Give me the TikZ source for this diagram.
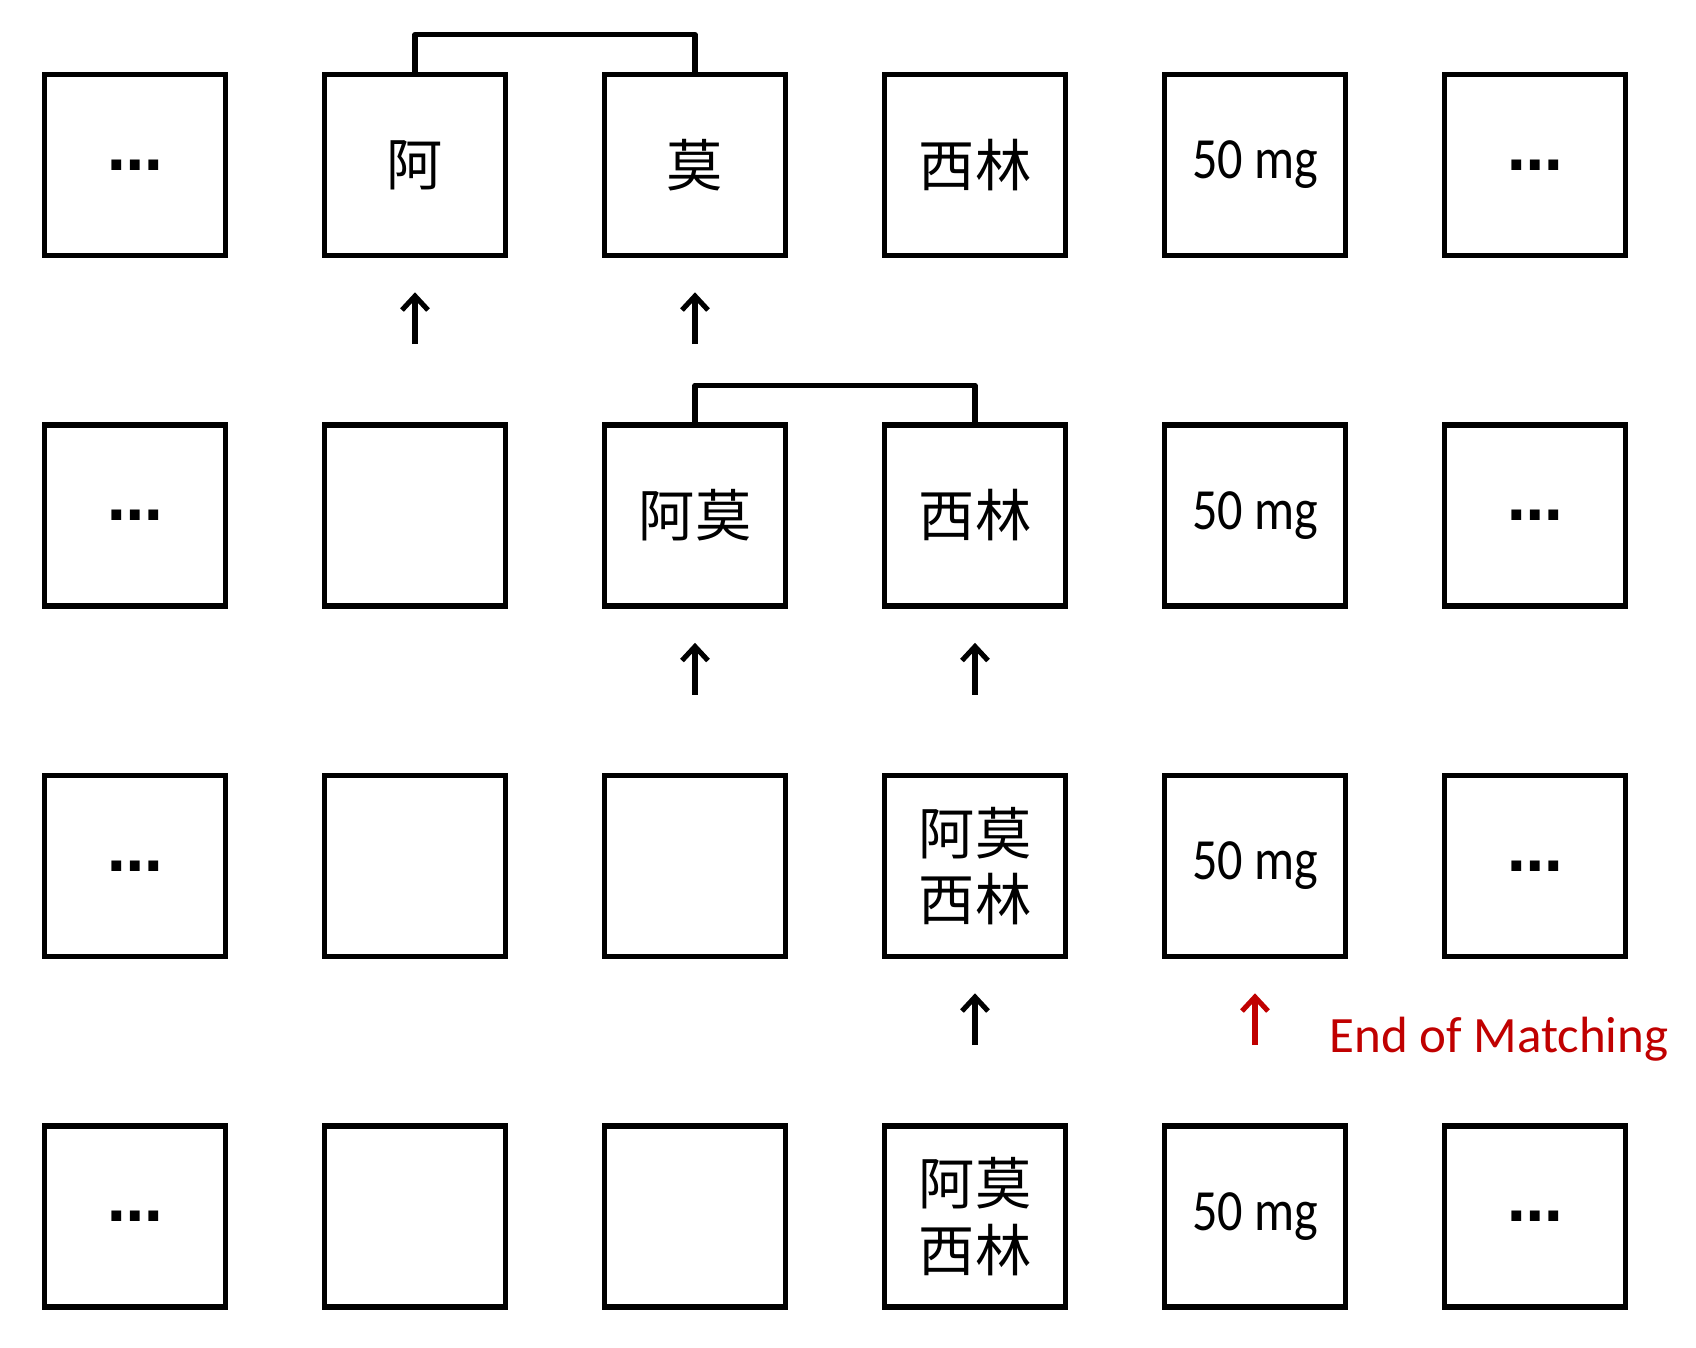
\documentclass[tikz,border=0pt]{standalone}
\usepackage{fontspec}
\setmainfont{Carlito}
\newfontfamily\cjk{Noto Sans CJK SC}
\newfontfamily\narrow[FakeStretch=0.86]{Carlito}
\newfontfamily\symfont{DejaVu Sans}
\usetikzlibrary{arrows.meta}
\definecolor{matchred}{RGB}{192,0,0}
\newcommand{\etc}{{\symfont\bfseries\fontsize{15.8}{19}\selectfont …}}
\newcommand{\dose}{{\narrow\fontsize{16.6}{20}\selectfont 50 mg}}
\tikzset{
  cell/.style={draw, line width=1.6pt, minimum size=1.81cm, inner sep=0pt, align=center, font=\cjk\fontsize{16}{19}\selectfont},
  up/.style={-{Straight Barb[length=1.4mm,width=2.6mm]}, line width=1.45pt},
  link/.style={line width=1.45pt, line join=round}
}
\begin{document}
\begin{tikzpicture}
\useasboundingbox (0,0) rectangle (16.96,-13.48);
\foreach \row [count=\r] in {{\etc,阿,莫,西林,\dose,\etc},{\etc,,阿莫,西林,\dose,\etc},{\etc,,,阿莫\\西林,\dose,\etc},{\etc,,,阿莫\\西林,\dose,\etc}}
{
  \foreach \t [count=\c] in \row
  {
    \node[cell] (b\r\c) at ({2.8*\c-1.45},{1.855-3.505*\r}) {\t};
  }
}
\draw[link] (b12.north) -- ++(0,0.37) -| (b13.north);
\draw[link] (b23.north) -- ++(0,0.37) -| (b24.north);
\foreach \lo/\hi in {22/12,23/13,33/23,34/24,44/34}
{
  \draw[up] ([yshift=0.78cm]b\lo.north) -- ([yshift=-0.34cm]b\hi.south);
}
\draw[up,matchred] ([yshift=0.78cm]b45.north) -- ([yshift=-0.34cm]b35.south);
\node[anchor=base west, inner sep=0pt, text=matchred, font=\fontsize{14.5}{17}\selectfont] (endlabel) at (13.29,-10.525) {End of Matching};
\end{tikzpicture}
\end{document}
